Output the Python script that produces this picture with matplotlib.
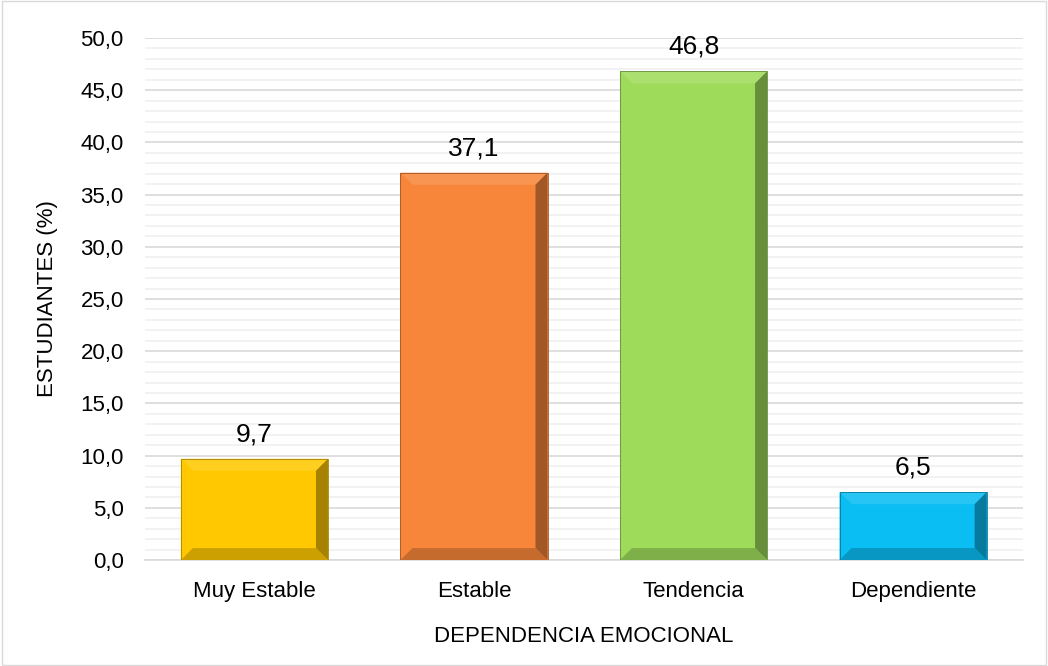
import matplotlib.pyplot as plt
from matplotlib.patches import Polygon, Rectangle
from matplotlib.ticker import MultipleLocator, FuncFormatter
import matplotlib.colors as mcolors

plt.rcParams['font.family'] = ['Liberation Sans', 'DejaVu Sans']

categories = ['Muy Estable', 'Estable', 'Tendencia', 'Dependiente']
values = [9.7, 37.1, 46.8, 6.5]
bar_colors = ['#FFC800', '#F7863A', '#9FDB5A', '#0ABDF2']


def shade(c, f):
    r, g, b = mcolors.to_rgb(c)
    if f >= 0:
        return (r + (1 - r) * f, g + (1 - g) * f, b + (1 - b) * f)
    f = -f
    return (r * (1 - f), g * (1 - f), b * (1 - f))


fig = plt.figure(figsize=(10.48, 6.66), dpi=100)
fig.patches.append(Rectangle((0.002, 0.002), 0.996, 0.996, transform=fig.transFigure,
                             fill=False, edgecolor='#d9d9d9', linewidth=1))
ax = fig.add_axes([0.138, 0.159, 0.838, 0.784])

x = list(range(len(categories)))
width = 0.67
bars = ax.bar(x, values, width=width, color=bar_colors, zorder=3,
              edgecolor='none')

ax.set_xlim(-0.5, len(categories) - 0.5)
ax.set_ylim(0, 50)

# bevel effect, size ~12 px converted to data units
bev_px = 12
ax_w = fig.get_figwidth() * fig.dpi * 0.838
ax_h = fig.get_figheight() * fig.dpi * 0.784
dx = bev_px * len(categories) / ax_w
dy = bev_px * 50 / ax_h
for b, c in zip(bars, bar_colors):
    x0, y0 = b.get_x(), b.get_y()
    x1, y1 = x0 + b.get_width(), y0 + b.get_height()
    h = b.get_height()
    ddy = min(dy, h / 2.5)
    inner = [(x0 + dx, y0 + ddy), (x1 - dx, y0 + ddy), (x1 - dx, y1 - ddy), (x0 + dx, y1 - ddy)]
    faces = [
        ([(x0, y1), (x1, y1), inner[2], inner[3]], shade(c, 0.12)),   # top
        ([(x0, y0), (x0, y1), inner[3], inner[0]], shade(c, 0.0)),    # left
        ([(x1, y0), (x1, y1), inner[2], inner[1]], shade(c, -0.35)),  # right
        ([(x0, y0), (x1, y0), inner[1], inner[0]], shade(c, -0.2)),   # bottom
    ]
    for pts, col in faces:
        ax.add_patch(Polygon(pts, closed=True, facecolor=col, edgecolor='none', zorder=4))
    ax.add_patch(Rectangle((x0, y0), x1 - x0, h, fill=False, edgecolor=shade(c, -0.35),
                           linewidth=0.6, zorder=5))
    ax.text(b.get_x() + b.get_width() / 2, y1 + 1.2, f'{h:.1f}'.replace('.', ','),
            ha='center', va='bottom', fontsize=19, color='#000000', zorder=6)

ax.yaxis.set_major_locator(MultipleLocator(5))
ax.yaxis.set_minor_locator(MultipleLocator(1))
ax.yaxis.set_major_formatter(FuncFormatter(lambda v, p: f'{v:.1f}'.replace('.', ',')))
ax.grid(axis='y', which='major', color='#d9d9d9', linewidth=1.2, zorder=0)
ax.grid(axis='y', which='minor', color='#f0f0f0', linewidth=1.2, zorder=0)
ax.set_axisbelow(True)

ax.set_xticks(x)
ax.set_xticklabels(categories, fontsize=16)
ax.tick_params(axis='y', labelsize=16, length=0, pad=15, which='both')
ax.tick_params(axis='x', length=0, pad=15)
for s in ['top', 'right', 'left']:
    ax.spines[s].set_visible(False)
ax.spines['bottom'].set_color('#d9d9d9')
ax.spines['bottom'].set_linewidth(1.2)

ax.set_ylabel('ESTUDIANTES (%)', fontsize=16, labelpad=16)
ax.set_xlabel('DEPENDENCIA EMOCIONAL', fontsize=16, labelpad=17)

fig.savefig('out.png', dpi=100)
